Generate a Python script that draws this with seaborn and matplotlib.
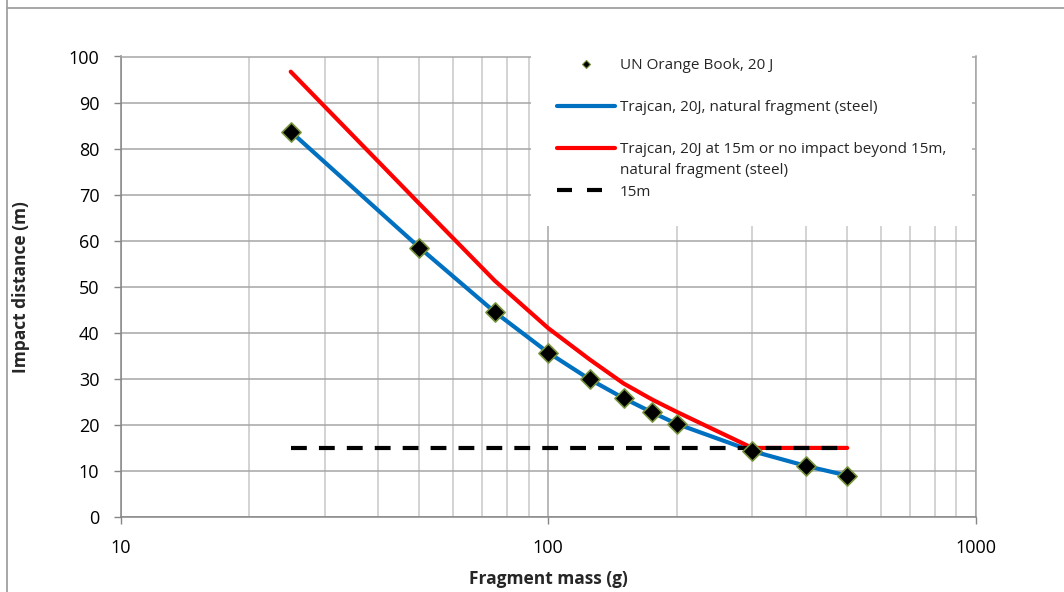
import matplotlib
matplotlib.use("Agg")
import matplotlib.pyplot as plt
import seaborn as sns
import pandas as pd
from matplotlib.lines import Line2D

# ---- data ----
mass_g = [25, 50, 75, 100, 125, 150, 175, 200, 300, 400, 500]
orange_book = [83.7, 58.5, 44.5, 35.7, 29.9, 25.8, 22.7, 20.2, 14.3, 11.1, 9.0]
trajcan_blue = [83.7, 58.5, 44.5, 35.7, 29.9, 25.8, 22.7, 20.2, 14.3, 11.1, 9.0]
trajcan_red = [96.7, 68.0, 51.3, 41.0, 34.2, 29.0, 25.5, 22.8, 15.0, 15.0, 15.0]
line15_mass = [25, 500]
line15_val = [15, 15]

xticks = [10, 100, 1000]
yticks = [0, 10, 20, 30, 40, 50, 60, 70, 80, 90, 100]

labels = ["UN Orange Book, 20 J",
          "Trajcan, 20J, natural fragment (steel)",
          "Trajcan, 20J at 15m or no impact beyond 15m,",
          "15m"]
red_label_line2 = "natural fragment (steel)"

sns.set_style("white")
plt.rcParams['font.family'] = ['Open Sans', 'DejaVu Sans']

fig = plt.figure(figsize=(10.64, 5.92), dpi=100)
ax = fig.add_axes([120.5/1064, 1-517/592, (976-120.5)/1064, (517-56.5)/592])

df = pd.DataFrame({"mass": mass_g, "ob": orange_book, "blue": trajcan_blue, "red": trajcan_red})
d15 = pd.DataFrame({"mass": line15_mass, "v": line15_val})

blue_c = "#0070C0"
red_c = "#FF0000"
LW = 3.0
sns.lineplot(data=df, x="mass", y="blue", ax=ax, color=blue_c, lw=LW, zorder=3,
             solid_capstyle='round')
sns.lineplot(data=df, x="mass", y="red", ax=ax, color=red_c, lw=LW, zorder=4,
             solid_capstyle='round')
sns.lineplot(data=d15, x="mass", y="v", ax=ax, color="black", lw=LW, zorder=5,
             linestyle=(0, (3.8, 2.9)))
sns.scatterplot(data=df, x="mass", y="ob", ax=ax, marker="D", s=95, color="black",
                edgecolor="#77933C", linewidth=1.2, zorder=6)

ax.set_xscale("log")
ax.set_xlim(10, 1000)
ax.set_ylim(0, 100)
ax.set_xticks(xticks)
ax.set_xticklabels([str(t) for t in xticks])
ax.set_yticks(yticks)
ax.set_yticklabels([str(t) for t in yticks])

ax.grid(True, which="major", color="#A6A6A6", lw=1.1, zorder=0)
ax.grid(True, which="minor", axis="x", color="#C8C8C8", lw=1.1, zorder=0)
ax.set_axisbelow(True)
for s in ax.spines.values():
    s.set_color("#A6A6A6")
    s.set_linewidth(1.1)
ax.spines['left'].set_color("#868686")
ax.spines['bottom'].set_color("#868686")

ax.tick_params(axis="both", which="major", length=4.8, width=1, color="#868686",
               labelsize=13, labelcolor="black", direction="out")
ax.tick_params(axis="y", which="major", pad=10.5)
ax.tick_params(axis="x", which="major", pad=11)
ax.tick_params(axis="x", which="minor", length=0)
ax.yaxis.set_tick_params(left=True)
ax.xaxis.set_tick_params(bottom=True)

ax.set_xlabel("Fragment mass (g)", fontsize=12.5, fontweight="bold")
ax.set_ylabel("Impact distance (m)", fontsize=12.5, fontweight="bold")
ax.xaxis.set_label_coords(0.5, (517-579)/460.5)
ax.xaxis.label.set_verticalalignment("center")
ax.yaxis.set_label_coords(-(120.5-21)/855.5, 0.5)
ax.yaxis.label.set_verticalalignment("center")

handles = [
    Line2D([], [], marker="D", ls="none", color="black", markeredgecolor="#77933C",
           markersize=4.5, markeredgewidth=0.8),
    Line2D([], [], color=blue_c, lw=LW),
    Line2D([], [], color=red_c, lw=LW),
    Line2D([], [], color="black", lw=LW, linestyle=(0, (3.6, 3.6))),
]
FS = 11
leg = ax.legend(handles, labels, loc="upper left",
                bbox_to_anchor=((531-120.5)/855.5, 1 + (56.5-32)/460.5),
                frameon=True, fancybox=False, framealpha=1, edgecolor="white",
                facecolor="white", fontsize=FS, handlelength=3.8, handletextpad=0.33,
                labelspacing=1.78, borderpad=1.7, borderaxespad=0.0)
leg.set_zorder(10)
leg.get_frame().set_linewidth(0)

ax.annotate(red_label_line2, xy=(0, 0.5), xycoords=leg.get_texts()[2],
            xytext=(0, -14.9), textcoords="offset points", ha="left", va="center",
            fontsize=FS, zorder=11, annotation_clip=False)

# outer chart border
fig.add_artist(Line2D([7/1064, 1], [1-8/592, 1-8/592], color="#A0A0A0", lw=1.3,
                      transform=fig.transFigure))
fig.add_artist(Line2D([7/1064, 7/1064], [0, 1], color="#A0A0A0", lw=1.3,
                      transform=fig.transFigure))

fig.savefig("out.png", dpi=100)
